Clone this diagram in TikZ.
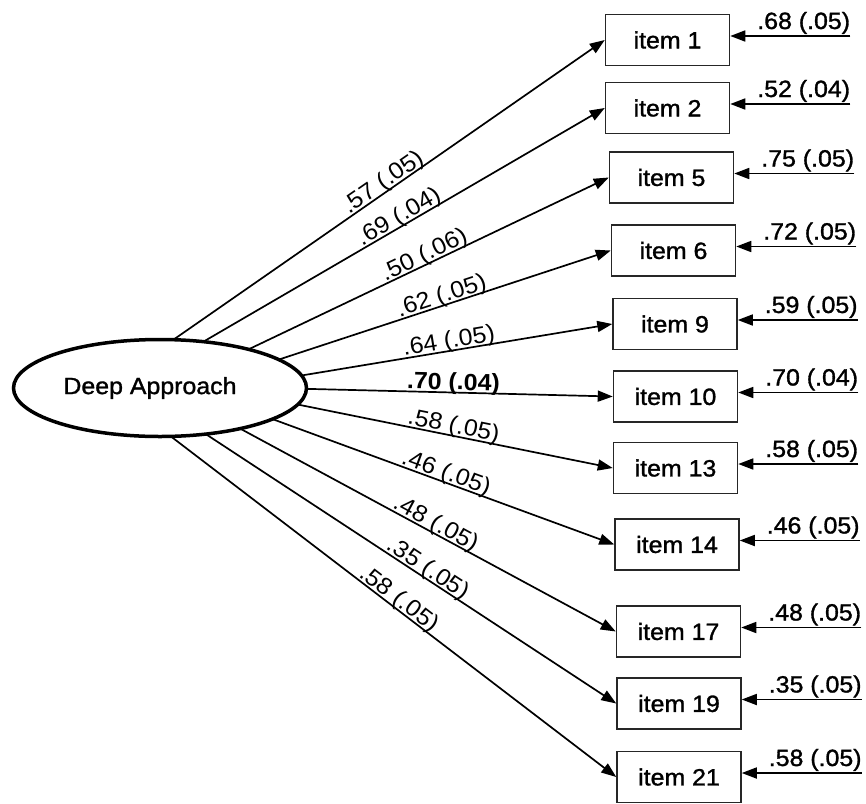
\documentclass[tikz,border=0pt]{standalone}
\usepackage{fontspec}
\setmainfont{Liberation Sans}[FakeStretch=1.06]
\newfontfamily\heavy{Liberation Sans}[FakeStretch=1.06,FakeBold=1.3]
\usetikzlibrary{arrows.meta,shapes.geometric,calc}
\begin{document}
\begin{tikzpicture}[x=1pt,y=-1pt,
  itembox/.style={draw=black!85, line width=1.5pt, minimum width=124pt, minimum height=51pt, inner sep=0pt, font=\heavy\fontsize{23.5}{26}\selectfont},
  latent/.style={draw, ellipse, line width=3.5pt, minimum width=293pt, minimum height=97pt, inner sep=0pt, font=\heavy\fontsize{23.5}{26}\selectfont},
  loadarrow/.style={line width=1.7pt, -{Triangle[length=15pt,width=11pt]}},
  loadlab/.style={font=\fontsize{23.5}{26}\selectfont, sloped, above=-3pt, inner sep=0pt},
  errarrow/.style={line width=1.7pt, -{Triangle[length=15pt,width=11pt]}},
  errlab/.style={font=\heavy\fontsize{23.5}{26}\selectfont, anchor=base east, inner sep=0pt}
]
\useasboundingbox (0,0) rectangle (866,803);
\node[latent] (dA) at (160,388) {Deep Approach\kern20pt};
\foreach \n/\x/\y/\a/\p/\ld/\er in {
  1/667.5/40/85/0.5/.57 (.05)/.68 (.05),
  2/667.5/108/73/0.5/.69 (.04)/.52 (.04),
  5/671.5/177.5/53/0.5/.50 (.06)/.75 (.05),
  6/673.5/250.5/36/0.5/.62 (.05)/.72 (.05),
  9/675/324/15/0.48/.64 (.05)/.59 (.05),
  10/675.5/396.5/-1/0.48/\textbf{.70 (.04)}/.70 (.04),
  13/675.5/468/-20/0.49/.58 (.05)/.58 (.05),
  14/677/544.5/-40/0.5/.46 (.05)/.46 (.05),
  17/678.5/631.5/-57/0.51/.48 (.05)/.48 (.05),
  19/679/703.5/-72/0.53/.35 (.05)/.35 (.05),
  21/679/777/-86/0.5/.58 (.05)/.58 (.05)}{
  \node[itembox] (i\n) at (\x,\y) {item \n};
  \coordinate (s\n) at ($(dA.center)+(\a:146pt and 48pt)$);
  \coordinate (e\n) at ($(i\n.east)+(120,-4)$);
  \draw[loadarrow] (s\n) -- node[loadlab, pos=\p] {\ld} (i\n.west);
  \draw[errarrow] (e\n) -- ([yshift=4pt]i\n.east);
  \node[errlab] at ([yshift=7pt]e\n) {\er};
}
\end{tikzpicture}
\end{document}
